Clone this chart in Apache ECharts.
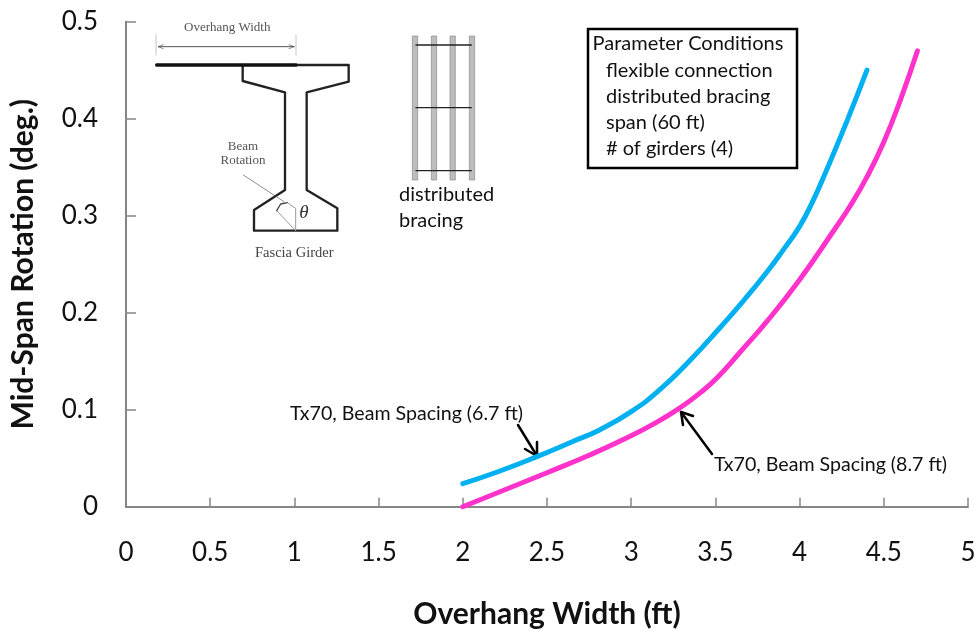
<!DOCTYPE html>
<html><head><meta charset="utf-8">
<style>html,body{margin:0;padding:0;background:#fff}#c{width:977px;height:631px}</style>
<script src="https://cdn.jsdelivr.net/npm/echarts@6/dist/echarts.min.js"></script>
</head><body><div id="c"></div>
<script>
const spacing67X = [2, 2.2, 2.44, 2.65, 2.815, 3, 3.17, 3.35, 3.527, 3.67, 3.806, 3.9, 4, 4.08, 4.16, 4.28, 4.4];
const spacing67Y = [0.0237, 0.0355, 0.0516, 0.067, 0.0794, 0.098, 0.1206, 0.151, 0.1845, 0.213, 0.242, 0.264, 0.289, 0.3155, 0.347, 0.397, 0.45];
const spacing87X = [2, 2.25, 2.5, 2.75, 2.975, 3.15, 3.29, 3.4, 3.51, 3.65, 3.806, 4, 4.2, 4.3, 4.4, 4.5, 4.6, 4.7];
const spacing87Y = [0, 0.0175, 0.035, 0.053, 0.071, 0.087, 0.102, 0.116, 0.133, 0.16, 0.191, 0.234, 0.284, 0.31, 0.34, 0.376, 0.42, 0.47];
const paramLines = ['Parameter Conditions','flexible connection','distributed bracing','span (60 ft)','# of girders (4)'];
const font = 'Lato, "Open Sans", sans-serif';
const axisGray = '#868686';

const zip = (a, b) => a.map((v, i) => [v, b[i]]);
const line = (pts, w, c, extra) => ({type:'polyline', shape:{points:pts}, style:Object.assign({stroke:c, lineWidth:w, fill:null, lineCap:'round', lineJoin:'round'}, extra||{}), silent:true});
const txt = (x, y, t, size, c, fam, extra) => ({type:'text', x, y, style:Object.assign({text:t, fontSize:size, fill:c, fontFamily:fam||font, verticalAlign:'middle'}, extra||{}), silent:true});
const serif = '"Liberation Serif", serif';

// inset drawn in the 3x crop coordinates, then scaled
const inset = [
  line([[78,105],[78,165]],2,'#aaa'), line([[498,105],[498,165]],2,'#aaa'),
  line([[85,140],[492,140]],3,'#555'),
  line([[85,140],[100,134]],2,'#555'), line([[85,140],[100,146]],2,'#555'),
  line([[492,140],[477,134]],2,'#555'), line([[492,140],[477,146]],2,'#555'),
  line([[498,195],[656,195],[656,245],[530,277],[530,570],[622,625],[622,692],[372,692],[372,630],[465,570],[465,277],[338,243],[338,195]],7,'#222'),
  line([[80,195],[498,195]],10,'#111'),
  line([[340,525],[462,605]],2,'#555'),
  line([[497,692],[497,625],[475,610]],3,'#999'),
  line([[497,692],[440,632]],3,'#999'),
  line([[440,632],[452,612],[472,608]],4,'#444')
];
[855,912,968,1026].forEach(x => {
  inset.push({type:'rect', shape:{x:x-8,y:108,width:16,height:432}, style:{fill:'#bdbdbd', stroke:'#8a8a8a', lineWidth:2}, silent:true});
});
[135,323,512].forEach(y => inset.push(line([[858,y],[1024,y]],4,'#222')));

const option = {
  animation:false,
  backgroundColor:'#fff',
  grid:{left:126, right:9, top:21.7, bottom:124.3, containLabel:false, outerBoundsMode:'none'},
  xAxis:{type:'value', min:0, max:5, interval:0.5,
    name:'Overhang Width (ft)', nameLocation:'middle', nameGap:93,
    nameTextStyle:{fontFamily:font, fontSize:30, fontWeight:'bold', color:'#111'},
    axisLine:{onZero:false, lineStyle:{color:axisGray, width:2}},
    axisTick:{inside:true, length:9, lineStyle:{color:axisGray, width:1.5}},
    axisLabel:{fontFamily:font, fontSize:26, color:'#111', margin:33, formatter:v=>String(v), showMinLabel:true, showMaxLabel:true},
    splitLine:{show:false}},
  yAxis:{type:'value', min:0, max:0.5, interval:0.1,
    name:'Mid-Span Rotation (deg.)', nameLocation:'middle', nameGap:88, nameRotate:90,
    nameTextStyle:{fontFamily:font, fontSize:30, fontWeight:'bold', color:'#111'},
    axisLine:{show:true, onZero:false, lineStyle:{color:axisGray, width:2}},
    axisTick:{show:true, inside:true, length:10, lineStyle:{color:axisGray, width:1.5}},
    axisLabel:{fontFamily:font, fontSize:26, color:'#111', margin:28, formatter:v=>String(v), showMinLabel:true, showMaxLabel:true},
    splitLine:{show:false}},
  series:[
    {name:'Tx70, Beam Spacing (6.7 ft)', type:'line', data:zip(spacing67X, spacing67Y), smooth:0.5, showSymbol:false, clip:false,
      lineStyle:{color:'#00B0F0', width:5, cap:'round'}},
    {name:'Tx70, Beam Spacing (8.7 ft)', type:'line', data:zip(spacing87X, spacing87Y), smooth:0.5, showSymbol:false, clip:false,
      lineStyle:{color:'#FF33CC', width:5, cap:'round'}}
  ],
  graphic:{elements:[
    {type:'group', x:130, y:0, scaleX:1/3, scaleY:1/3, silent:true, children:inset},
    txt(184,28,'Overhang Width',13,'#555',serif),
    txt(243,147,'Beam',13,'#555',serif,{align:'center'}),
    txt(243,161,'Rotation',13,'#555',serif,{align:'center'}),
    txt(304,213,'θ',19,'#333',serif,{fontStyle:'italic',align:'center'}),
    txt(255,253,'Fascia Girder',14.5,'#444',serif),
    txt(399,195,'distributed',20,'#111'),
    txt(399,221,'bracing',20,'#111'),
    {type:'rect', shape:{x:588,y:29,width:209,height:139}, style:{fill:'#fff', stroke:'#000', lineWidth:2.5}, silent:true},
    txt(592.5,44,paramLines[0],20,'#111'),
    txt(606,70.7,paramLines[1],20,'#111'),
    txt(606,96.7,paramLines[2],20,'#111'),
    txt(606,122.7,paramLines[3],20,'#111'),
    txt(606,148.7,paramLines[4],20,'#111'),
    txt(290,414,'Tx70, Beam Spacing (6.7 ft)',19.6,'#111'),
    txt(714,465,'Tx70, Beam Spacing (8.7 ft)',19.6,'#111'),
    line([[518,425],[537,456]],2.5,'#000'),
    line([[525,449],[537,456],[537,442]],2.5,'#000'),
    line([[712,454],[681,412]],2.5,'#000'),
    line([[683,425],[681,412],[693,416]],2.5,'#000')
  ]}
};
echarts.init(document.getElementById('c'), null, {renderer:'canvas'}).setOption(option);
</script></body></html>
